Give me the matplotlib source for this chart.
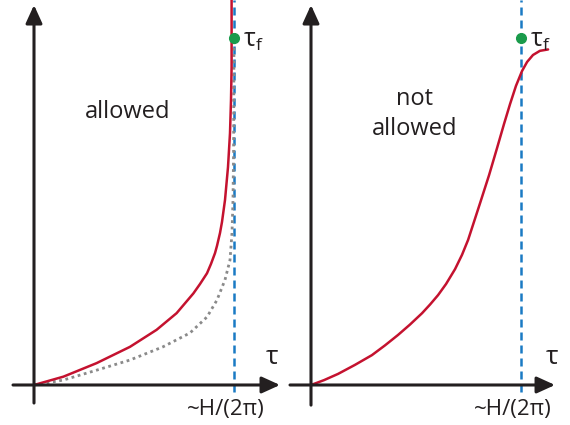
import matplotlib
matplotlib.use("Agg")
import matplotlib.pyplot as plt

plt.rcParams["font.family"] = ["Open Sans", "DejaVu Sans"]
plt.rcParams["mathtext.fontset"] = "custom"
plt.rcParams["mathtext.rm"] = "Open Sans"
plt.rcParams["mathtext.it"] = "Open Sans"

# x in units of H/(2pi), y normalised so tau_f sits at 1
left_red_x = [0, 0.147, 0.313, 0.48, 0.613, 0.713, 0.797, 0.83, 0.865, 0.885, 0.905, 0.915,
              0.93, 0.94, 0.955, 0.97, 0.98, 0.985, 0.988, 0.988]
left_red_y = [0, 0.024, 0.063, 0.110, 0.159, 0.207, 0.264, 0.291, 0.322, 0.349, 0.380, 0.401,
              0.438, 0.470, 0.533, 0.628, 0.726, 0.821, 0.916, 1.11]

left_grey_x = [0, 0.145, 0.315, 0.48, 0.645, 0.78, 0.865, 0.915, 0.955, 0.98, 0.99, 0.995, 0.998, 1.0]
left_grey_y = [0, 0.014, 0.043, 0.072, 0.110, 0.150, 0.196, 0.245, 0.303, 0.360, 0.438, 0.533, 0.677, 1.0]

right_red_x = [0, 0.062, 0.129, 0.2095, 0.290, 0.352, 0.414, 0.471, 0.529, 0.567, 0.605, 0.643,
               0.686, 0.719, 0.748, 0.776, 0.805, 0.848, 0.886, 0.919, 0.948, 0.976, 1.005,
               1.029, 1.057, 1.090, 1.129]
right_red_y = [0, 0.014, 0.032, 0.058, 0.086, 0.114, 0.144, 0.174, 0.207, 0.232, 0.259, 0.291,
               0.334, 0.375, 0.418, 0.470, 0.524, 0.605, 0.683, 0.752, 0.810, 0.862, 0.905,
               0.931, 0.951, 0.963, 0.967]

tau_f = (1.0, 1.0)
h_mark = 1.0

red = "#c4122f"
blue = "#1a7ac4"
green = "#1a9b4b"
grey = "#8a8a8a"
ink = "#231f20"

fig = plt.figure(figsize=(5.7, 4.25), dpi=100)
ax1 = fig.add_axes([0, 0, 290 / 570, 1])
ax2 = fig.add_axes([290 / 570, 0, 280 / 570, 1])

ax1.set_xlim(-0.17, 1.28)
ax2.set_xlim(-0.1, 1.2333)
for ax in (ax1, ax2):
    ax.set_ylim(-0.1153, 1.1095)
    ax.axis("off")

arrow = dict(arrowstyle="-|>,head_length=0.55,head_width=0.25", lw=2.2,
             color=ink, mutation_scale=20, shrinkA=0, shrinkB=0)


def draw_axes(ax, x0, x1, y0):
    ax.annotate("", xy=(x1, 0), xytext=(x0, 0), arrowprops=arrow)
    ax.annotate("", xy=(0, 1.095), xytext=(0, y0), arrowprops=arrow)
    ax.plot([h_mark, h_mark], [-0.02, 1.11], color=blue, lw=1.8,
            linestyle=(0, (3.2, 2.0)))


tau_f_label = r"$\mathrm{\tau}_\mathrm{f}$"

# left panel
draw_axes(ax1, -0.105, 1.23, -0.052)
ax1.plot(left_grey_x, left_grey_y, color=grey, lw=2.0, linestyle=(0, (1.0, 1.3)))
ax1.plot(left_red_x, left_red_y, color=red, lw=1.8, solid_capstyle="round", solid_joinstyle="round")
ax1.plot(*tau_f, "o", color=green, ms=7, zorder=5)
ax1.text(1.045, 0.994, tau_f_label, fontsize=18, color=ink, va="center", ha="left")
ax1.text(0.47, 0.787, "allowed", fontsize=17, color=ink, ha="center", va="center")
ax1.text(1.19, 0.078, "τ", fontsize=19, color=ink, ha="center", va="center")
ax1.text(0.96, -0.072, "~H/(2π)", fontsize=16, color=ink, ha="center", va="center")

# right panel
draw_axes(ax2, -0.1, 1.162, -0.058)
ax2.plot(right_red_x, right_red_y, color=red, lw=1.8, solid_capstyle="round", solid_joinstyle="round")
ax2.plot(*tau_f, "o", color=green, ms=7, zorder=5)
ax2.text(1.043, 0.994, tau_f_label, fontsize=18, color=ink, va="center", ha="left")
ax2.text(0.495, 0.781, "not\nallowed", fontsize=17, color=ink, ha="center",
         va="center", linespacing=1.35)
ax2.text(1.148, 0.078, "τ", fontsize=19, color=ink, ha="center", va="center")
ax2.text(0.962, -0.072, "~H/(2π)", fontsize=16, color=ink, ha="center", va="center")

fig.savefig("out.png", dpi=100)
